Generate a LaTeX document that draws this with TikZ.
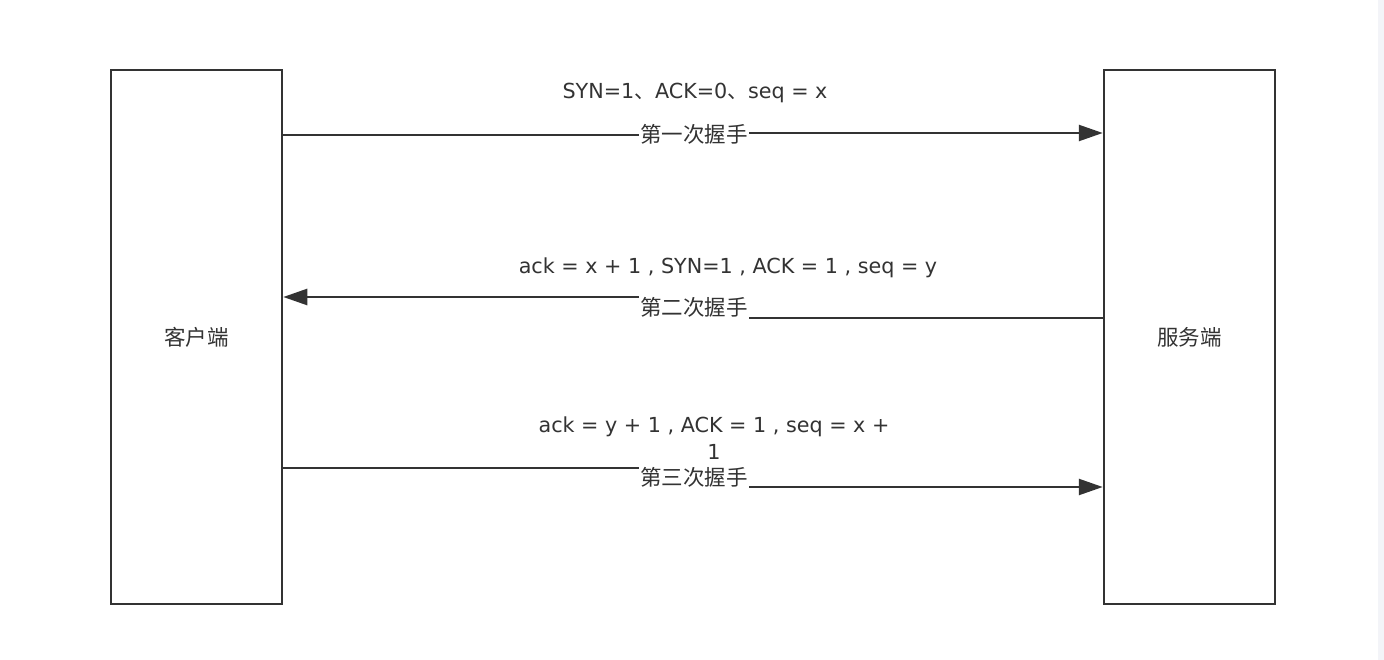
\documentclass[tikz,border=0pt]{standalone}
\usepackage{fontspec}
\setmainfont{Noto Sans CJK SC}
\newfontfamily\latf{DejaVu Sans}
\newfontfamily\cjkf{Noto Sans CJK SC}
\usetikzlibrary{arrows.meta}
\definecolor{ink}{HTML}{333333}
\definecolor{strip}{HTML}{F3F4F8}
\newcommand{\dun}{{\cjkf 、}}
\tikzset{
  party/.style={draw=ink, line width=2.5pt, minimum width=171pt, minimum height=534pt, inner sep=0pt, text=ink, font=\fontsize{21.5}{25}\selectfont},
  conn/.style={draw=ink, line width=2.5pt, -{Triangle[length=24pt,width=16pt]}},
  lbl/.style={fill=white, inner xsep=1pt, inner ysep=0pt, minimum height=24pt, text=ink, font=\fontsize{21.5}{25}\selectfont},
  msg/.style={inner sep=0pt, text=ink, align=center, font=\latf\fontsize{20.7}{27}\selectfont}
}
\begin{document}
\begin{tikzpicture}[x=1pt,y=-1pt]
\useasboundingbox (0,0) rectangle (1384,660);
\fill[white] (0,0) rectangle (1384,660);
\fill[strip] (1378,0) rectangle (1384,660);
\node[party] (client) at (196.5,337) {客户端};
\node[party] (server) at (1189.5,337) {服务端};
% first handshake
\coordinate (j1) at (694,135);
\coordinate (k1) at (694,133);
\draw[conn] (client.east |- j1) -- (j1) -- (k1) -- (server.west |- k1);
\node[lbl] (h1) at (694,134) {第一次握手};
\node[msg] (m1) at (695,93) {SYN=1\dun ACK=0\dun seq = x};
% second handshake
\coordinate (j2) at (694,318);
\coordinate (k2) at (694,297);
\draw[conn] (server.west |- j2) -- (j2) -- (k2) -- (client.east |- k2);
\node[lbl] (h2) at (694,307.5) {第二次握手};
\node[msg] (m2) at (728,268) {ack = x + 1 , SYN=1 , ACK = 1 , seq = y};
% third handshake
\coordinate (j3) at (694,468);
\coordinate (k3) at (694,487);
\draw[conn] (client.east |- j3) -- (j3) -- (k3) -- (server.west |- k3);
\node[lbl] (h3) at (694,477.5) {第三次握手};
\node[msg] (m3) at (714,438) {ack = y + 1 , ACK = 1 , seq = x +\\1};
\end{tikzpicture}
\end{document}
